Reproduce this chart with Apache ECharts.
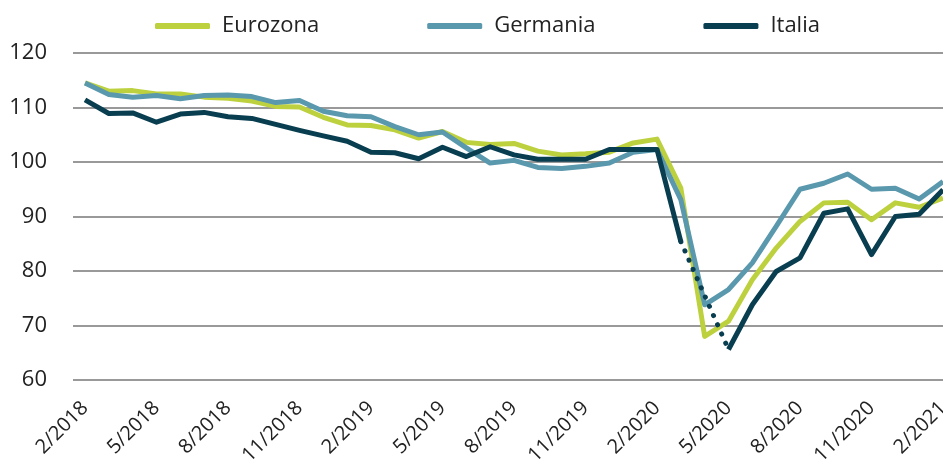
<!DOCTYPE html>
<html>
<head>
<meta charset="utf-8">
<script src="https://cdn.jsdelivr.net/npm/echarts@6/dist/echarts.min.js"></script>
<style>
  html, body { margin: 0; padding: 0; background: #fff; }
  #chart { width: 943px; height: 461px; }
</style>
</head>
<body>
<div id="chart"></div>
<script>
// mesi da 2/2018 a 2/2021
const months = [
  "2/2018", "3/2018", "4/2018", "5/2018", "6/2018", "7/2018", "8/2018", "9/2018", "10/2018", "11/2018", "12/2018",
  "1/2019", "2/2019", "3/2019", "4/2019", "5/2019", "6/2019", "7/2019", "8/2019", "9/2019", "10/2019", "11/2019", "12/2019",
  "1/2020", "2/2020", "3/2020", "4/2020", "5/2020", "6/2020", "7/2020", "8/2020", "9/2020", "10/2020", "11/2020", "12/2020",
  "1/2021", "2/2021"
];

const eurozona = [
  114.5, 113.0, 113.1, 112.5, 112.5, 111.9, 111.7, 111.2, 110.2, 110.1, 108.2,
  106.8, 106.7, 105.9, 104.4, 105.6, 103.6, 103.2, 103.4, 102.0, 101.3, 101.5, 101.8,
  103.5, 104.2, 95.2, 68.0, 70.8, 78.4, 84.2, 89.1, 92.5, 92.6, 89.4, 92.5,
  91.7, 93.4
];

const germania = [
  114.5, 112.4, 111.9, 112.2, 111.6, 112.2, 112.3, 112.0, 110.9, 111.3, 109.3,
  108.5, 108.3, 106.5, 105.0, 105.5, 102.6, 99.8, 100.3, 99.0, 98.8, 99.2, 99.8,
  101.8, 102.3, 93.1, 73.8, 76.6, 81.5, 88.2, 95.0, 96.1, 97.8, 95.0, 95.2,
  93.2, 96.4
];

// 4/2020 manca: il tratto 3/2020 - 5/2020 e' tratteggiato
const italia = [
  111.4, 108.9, 109.0, 107.3, 108.8, 109.1, 108.3, 108.0, 106.9, 105.8, 104.8,
  103.8, 101.8, 101.7, 100.6, 102.7, 101.0, 102.8, 101.3, 100.5, 100.5, 100.5, 102.3,
  102.3, 102.3, 85.4, null, 65.6, 73.8, 79.9, 82.4, 90.6, 91.4, 83.0, 90.0,
  90.4, 94.9
];

const italiaGap = italia.map((v, i) => (i >= 25 && i <= 27 ? v : null));

const yTicks = [60, 70, 80, 90, 100, 110, 120];

const font = "'Open Sans', 'DejaVu Sans', sans-serif";
const colors = { eurozona: "#bdd13f", germania: "#5a98ad", italia: "#083e50" };

const chart = echarts.init(document.getElementById("chart"), null, { renderer: "canvas" });

const yBase = {
  type: "value",
  min: yTicks[0],
  max: yTicks[yTicks.length - 1],
  interval: 10,
  axisLine: { show: false },
  axisTick: { show: false },
};

chart.setOption({
  animation: false,
  textStyle: { fontFamily: font },
  legend: {
    data: ["Eurozona", "Germania", "Italia"],
    left: 150,
    top: 10,
    itemWidth: 55,
    itemHeight: 6,
    itemGap: 108,
    icon: "roundRect",
    textStyle: { fontSize: 22, color: "#222", fontFamily: font, padding: [0, 0, 0, 7] },
  },
  // grid 0: le linee; grid 1: solo griglia ed etichette y (parte un po' prima)
  grid: [
    { left: 85, right: 0, top: 53, bottom: 81, outerBoundsMode: "none", containLabel: false },
    { left: 73, right: 0, top: 53, bottom: 81, outerBoundsMode: "none", containLabel: false },
  ],
  xAxis: [
    {
      type: "category",
      gridIndex: 0,
      data: months,
      boundaryGap: false,
      axisLine: { show: false },
      axisTick: { show: false },
      axisLabel: {
        interval: 2,
        rotate: 45,
        margin: 25,
        fontSize: 20,
        color: "#222",
        fontFamily: font,
      },
      splitLine: { show: false },
    },
    { type: "value", gridIndex: 1, show: false, min: 0, max: 1 },
  ],
  yAxis: [
    Object.assign({ gridIndex: 0, axisLabel: { show: false }, splitLine: { show: false }, z: 3 }, yBase),
    Object.assign({
      gridIndex: 1,
      z: 0,
      axisLabel: { fontSize: 22, color: "#222", margin: 26, fontFamily: font },
      splitLine: { lineStyle: { color: "#999", width: 2 } },
    }, yBase),
  ],
  series: [
    {
      name: "Eurozona",
      type: "line",
      data: eurozona,
      showSymbol: false,
      color: colors.eurozona,
      lineStyle: { width: 5, color: colors.eurozona, join: "round" },
    },
    {
      name: "Germania",
      type: "line",
      data: germania,
      showSymbol: false,
      color: colors.germania,
      lineStyle: { width: 5, color: colors.germania, join: "round" },
    },
    {
      name: "Italia",
      type: "line",
      data: italia,
      showSymbol: false,
      connectNulls: false,
      color: colors.italia,
      lineStyle: { width: 5, color: colors.italia, join: "round" },
    },
    {
      name: "Italia (stima)",
      type: "line",
      data: italiaGap,
      showSymbol: false,
      connectNulls: true,
      color: colors.italia,
      lineStyle: { width: 5, color: colors.italia, type: [0.1, 10], cap: "round" },
    },
  ],
});
</script>
</body>
</html>
